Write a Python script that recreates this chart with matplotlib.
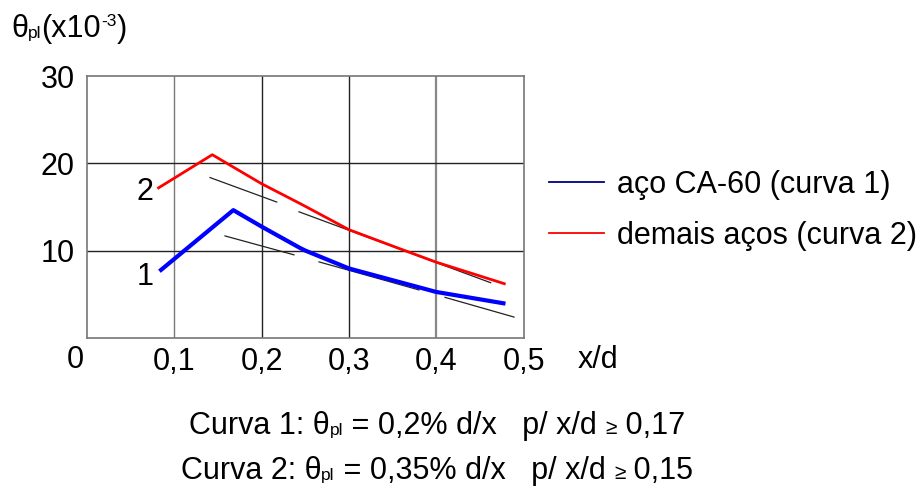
import matplotlib
matplotlib.use("Agg")
import matplotlib.pyplot as plt
from matplotlib.lines import Line2D

plt.rcParams["font.family"] = ["Liberation Sans", "DejaVu Sans"]

# Curve 1: CA-60 steel
x_curve1 = [0.0848, 0.1676, 0.200, 0.244, 0.250, 0.300, 0.350, 0.400, 0.477]
y_curve1 = [7.78, 14.64, 12.75, 10.3, 10.0, 7.95, 6.6, 5.25, 3.95]

# Curve 2: other steels
x_curve2 = [0.082, 0.1435, 0.200, 0.244, 0.300, 0.364, 0.400, 0.478]
y_curve2 = [17.2, 21.0, 17.67, 15.4, 12.4, 10.0, 8.67, 6.2]

# Thin reference lines (d/x law), drawn as broken segments
ref_upper = [[(0.1409, 18.38), (0.2173, 15.57)],
             [(0.2428, 14.45), (0.4624, 6.31)]]
ref_lower = [[(0.1581, 11.68), (0.2371, 9.51)],
             [(0.2658, 8.70), (0.3803, 5.48)],
             [(0.4101, 4.63), (0.4891, 2.37)]]

x_ticks = [0.1, 0.2, 0.3, 0.4, 0.5]
x_ticklabels = ["0,1", "0,2", "0,3", "0,4", "0,5"]
y_ticks = [10, 20, 30]
y_ticklabels = ["10", "20", "30"]

legend_labels = ["aço CA-60 (curva 1)", "demais aços (curva 2)"]

W, H = 919, 487
FS = 22      # main text size
FS_SMALL = 12.5  # sub/superscripts

fig = plt.figure(figsize=(W / 100, H / 100), dpi=100)
ax = fig.add_axes([87 / W, 1 - 337.7 / H, (523.5 - 87) / W, (337.7 - 76.3) / H])
ax.set_xlim(0, 0.5)
ax.set_ylim(0, 30)

# grid
for xv, c, lw in zip([0.1, 0.2, 0.3, 0.4], ["#7a7a7a", "#222222", "#222222", "#888888"], [1.0, 1.0, 1.0, 1.6]):
    ax.axvline(xv, color=c, lw=lw, zorder=1)
for yv in [10, 20]:
    ax.axhline(yv, color="#222222", lw=1.0, zorder=1)
for s in ax.spines.values():
    s.set_color("#777777")
    s.set_linewidth(1.2)

for seg in ref_upper + ref_lower:
    (x0, y0), (x1, y1) = seg
    ax.plot([x0, x1], [y0, y1], color="#222222", lw=0.9, zorder=2)

ax.plot(x_curve2, y_curve2, color="#ff0000", lw=2.0, zorder=3)
ax.plot(x_curve1, y_curve1, color="#0000ff", lw=3.0, zorder=3)

ax.set_xticks(x_ticks)
ax.set_xticklabels(x_ticklabels, fontsize=FS)
ax.set_yticks(y_ticks)
ax.set_yticklabels(y_ticklabels, fontsize=FS)
ax.tick_params(axis="both", length=0)
ax.tick_params(axis="x", pad=7)
ax.tick_params(axis="y", pad=9)

# curve labels
ax.text(0.0664, 16.7, "2", fontsize=FS, ha="center", va="center")
ax.text(0.0664, 7.0, "1", fontsize=FS, ha="center", va="center")


def fx(px):
    return px / W


def fy(py):
    return 1 - py / H


renderer = fig.canvas.get_renderer()


def text_width(s, size):
    """Advance width in pixels, keeping leading/trailing spaces."""
    def w(t):
        tmp = fig.text(0, 0, t, fontsize=size)
        ext = tmp.get_window_extent(renderer).width
        tmp.remove()
        return ext
    return w("I" + s + "I") - w("II")


def draw_runs(x_px, base_px, runs, ha="left"):
    """Draw a line made of (text, size, raise_px) runs on a common baseline."""
    widths = [text_width(t, sz) for t, sz, _ in runs]
    total = sum(widths)
    x = x_px - total / 2 if ha == "center" else x_px
    for (t, sz, dy), wdt in zip(runs, widths):
        fig.text(fx(x), fy(base_px - dy), t, fontsize=sz, ha="left", va="baseline")
        x += wdt


fig.text(fx(75), fy(360), "0", fontsize=FS, ha="center", va="center")
fig.text(fx(578), fy(360), "x/d", fontsize=FS, ha="left", va="center")

# axis title
draw_runs(11, 37, [("θ", FS, 0), ("pl", FS_SMALL, -1), ("(x10", FS, 0),
                   ("-3", FS_SMALL, 11), (")", FS, 0)])

# legend
handles = [Line2D([], [], color="#000080", lw=1.3),
           Line2D([], [], color="#ff0000", lw=1.3)]
fig.legend(handles, legend_labels, loc="upper left",
           bbox_to_anchor=(fx(549), fy(170)), frameon=False, fontsize=FS,
           handlelength=1.8, handletextpad=0.42, labelspacing=0.68,
           borderpad=0, borderaxespad=0)

# formulas below the chart
draw_runs(437, 434, [("Curva 1: θ", FS, 0), ("pl", FS_SMALL, -1),
                     (" = 0,2% d/x   p/ x/d ", FS, 0), ("≥", 15, 0),
                     (" 0,17", FS, 0)], ha="center")
draw_runs(437, 479, [("Curva 2: θ", FS, 0), ("pl", FS_SMALL, -1),
                     (" = 0,35% d/x   p/ x/d ", FS, 0), ("≥", 15, 0),
                     (" 0,15", FS, 0)], ha="center")

fig.savefig("out.png", dpi=100)
